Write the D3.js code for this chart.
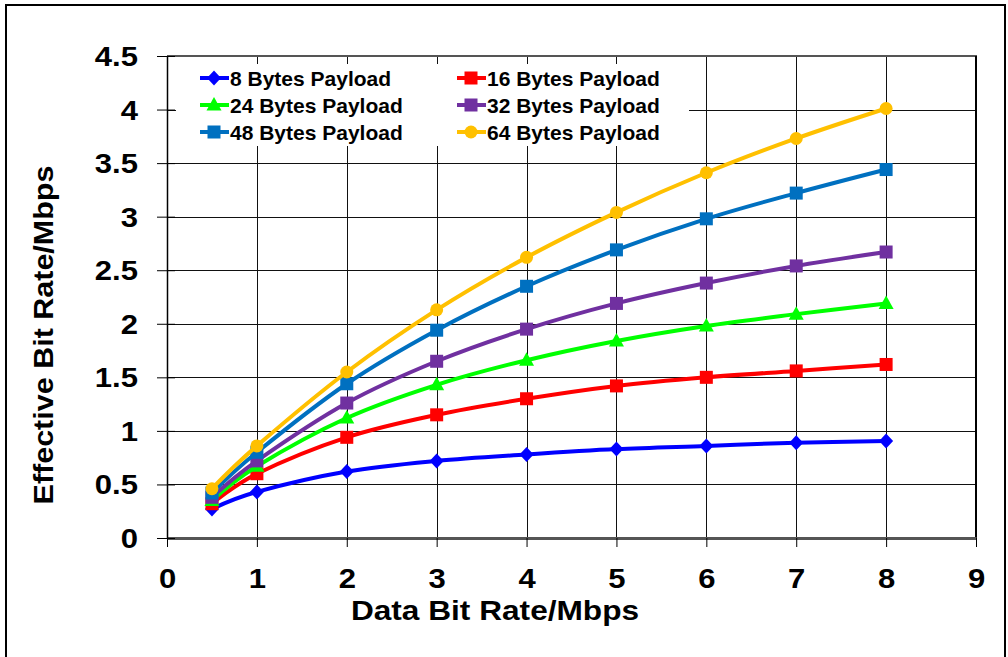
<!DOCTYPE html>
<html>
<head>
<meta charset="utf-8">
<script src="https://cdn.jsdelivr.net/npm/d3@7"></script>
<style>
  html, body { margin: 0; padding: 0; background: #fff; }
  svg { display: block; }
  text { font-family: "Liberation Sans", Arial, sans-serif; font-weight: bold; fill: #000; }
</style>
</head>
<body>
<svg id="chart" width="1008" height="657"></svg>
<script>
// ---- data ----
const dataRates = [0.5, 1, 2, 3, 4, 5, 6, 7, 8];
const seriesNames = ["8 Bytes Payload", "16 Bytes Payload", "24 Bytes Payload",
                     "32 Bytes Payload", "48 Bytes Payload", "64 Bytes Payload"];
const payload8  = [0.27, 0.43, 0.62, 0.72, 0.78, 0.83, 0.86, 0.89, 0.905];
const payload16 = [0.32, 0.60, 0.94, 1.15, 1.30, 1.42, 1.50, 1.56, 1.62];
const payload24 = [0.35, 0.67, 1.12, 1.43, 1.66, 1.84, 1.98, 2.09, 2.19];
const payload32 = [0.38, 0.72, 1.26, 1.65, 1.95, 2.19, 2.38, 2.54, 2.67];
const payload48 = [0.42, 0.80, 1.44, 1.94, 2.35, 2.69, 2.98, 3.22, 3.44];
const payload64 = [0.46, 0.86, 1.55, 2.13, 2.62, 3.04, 3.41, 3.73, 4.01];
const xTicks = [0, 1, 2, 3, 4, 5, 6, 7, 8, 9];
const yTicks = [0, 0.5, 1, 1.5, 2, 2.5, 3, 3.5, 4, 4.5];
const xTitle = "Data Bit Rate/Mbps";
const yTitle = "Effective Bit Rate/Mbps";

const seriesValues = [payload8, payload16, payload24, payload32, payload48, payload64];
const colors = ["#0000FF", "#FF0000", "#00FF00", "#7030A0", "#0070C0", "#FFC000"];
const shapes = ["diamond", "square", "triangle", "square", "square", "circle"];

// ---- layout ----
const svg = d3.select("#chart");
const L = 167, R = 976, T = 56, B = 538;
const x = d3.scaleLinear().domain([0, 9]).range([L, R]);
const y = d3.scaleLinear().domain([0, 4.5]).range([B, T]);

svg.append("rect").attr("width", 1008).attr("height", 657).attr("fill", "#fff");

// outer frame
svg.append("rect").attr("x", 6).attr("y", 5).attr("width", 999).attr("height", 720)
  .attr("fill", "none").attr("stroke", "#000").attr("stroke-width", 2);

// gridlines
const grid = svg.append("g").attr("shape-rendering", "crispEdges");
grid.selectAll("line.h").data(yTicks.filter(d => d > 0 && d < 4.5)).join("line")
  .attr("x1", L).attr("x2", R).attr("y1", d => Math.round(y(d)) + 0.5).attr("y2", d => Math.round(y(d)) + 0.5)
  .attr("stroke", "#111").attr("stroke-width", 1);
grid.selectAll("line.v").data(xTicks.filter(d => d > 0 && d < 9)).join("line")
  .attr("y1", T).attr("y2", B).attr("x1", d => Math.round(x(d)) + 0.5).attr("x2", d => Math.round(x(d)) + 0.5)
  .attr("stroke", "#111").attr("stroke-width", 1);

// plot border
svg.append("line").attr("x1", L).attr("x2", R + 1).attr("y1", T).attr("y2", T)
  .attr("stroke", "#555").attr("stroke-width", 2);
svg.append("line").attr("x1", R).attr("x2", R).attr("y1", T).attr("y2", B)
  .attr("stroke", "#000").attr("stroke-width", 2);

// axes
const xAxis = svg.append("g").attr("transform", `translate(0,${B})`)
  .call(d3.axisBottom(x).tickValues(xTicks).tickSize(9).tickSizeOuter(0).tickFormat(d3.format("d")));
xAxis.select(".domain").attr("stroke", "#555").attr("stroke-width", 3);
xAxis.selectAll(".tick line").attr("stroke", "#000").attr("stroke-width", 1);
xAxis.selectAll(".tick text").attr("y", 0).attr("dy", 0)
  .attr("transform", "translate(0,50) scale(1.15,1)")
  .style("font-size", "27px").style("font-family", "'Liberation Sans', Arial, sans-serif")
  .style("font-weight", "bold").attr("fill", "#000");

const yAxis = svg.append("g").attr("transform", `translate(${L},0)`)
  .call(d3.axisLeft(y).tickValues(yTicks).tickSize(10).tickSizeOuter(0).tickFormat(d => d3.format("")(d)));
yAxis.select(".domain").attr("stroke", "#000").attr("stroke-width", 1.5);
yAxis.selectAll(".tick line").attr("stroke", "#000").attr("stroke-width", 1).attr("x2", 8).attr("x1", -10);
yAxis.selectAll(".tick text").attr("x", 0).attr("dy", 0)
  .attr("transform", "translate(-29,9.5) scale(1.15,1)")
  .style("font-size", "27px").style("font-family", "'Liberation Sans', Arial, sans-serif")
  .style("font-weight", "bold").attr("fill", "#000");

// axis titles
svg.append("text").attr("transform", "translate(495,620) scale(1.13,1)")
  .attr("text-anchor", "middle").style("font-size", "28px").text(xTitle);
svg.append("text").attr("transform", "translate(53,335) rotate(-90) scale(1.13,1)")
  .attr("text-anchor", "middle").style("font-size", "27px").text(yTitle);

// marker helper
function drawMarker(g, shape, color, cx, cy) {
  if (shape === "circle") {
    g.append("circle").attr("cx", cx).attr("cy", cy).attr("r", 6.5).attr("fill", color);
  } else if (shape === "square") {
    g.append("rect").attr("x", cx - 6.5).attr("y", cy - 6.5).attr("width", 13).attr("height", 13).attr("fill", color);
  } else if (shape === "diamond") {
    g.append("path").attr("d", `M${cx},${cy - 7.5}L${cx + 7},${cy}L${cx},${cy + 7.5}L${cx - 7},${cy}Z`).attr("fill", color);
  } else if (shape === "triangle") {
    g.append("path").attr("d", `M${cx},${cy - 8}L${cx + 7.5},${cy + 5.5}L${cx - 7.5},${cy + 5.5}Z`).attr("fill", color);
  }
}

// series
const line = d3.line().x(d => x(d[0])).y(d => y(d[1])).curve(d3.curveCardinal.tension(0));
seriesValues.forEach((vals, i) => {
  const pts = dataRates.map((r, j) => [r, vals[j]]);
  const g = svg.append("g");
  g.append("path").datum(pts).attr("d", line).attr("fill", "none")
    .attr("stroke", colors[i]).attr("stroke-width", 4).attr("stroke-linejoin", "round");
  pts.forEach(p => drawMarker(g, shapes[i], colors[i], x(p[0]), y(p[1])));
});

// legend
const lg = svg.append("g");
lg.append("rect").attr("x", 176).attr("y", 64).attr("width", 513).attr("height", 82).attr("fill", "#fff");
const colX = [200, 457];
const rowY = [78, 105, 132];
seriesNames.forEach((name, i) => {
  const cx = colX[i % 2], cy = rowY[Math.floor(i / 2)];
  lg.append("line").attr("x1", cx).attr("x2", cx + 29).attr("y1", cy).attr("y2", cy)
    .attr("stroke", colors[i]).attr("stroke-width", 4);
  drawMarker(lg, shapes[i], colors[i], cx + 14, cy);
  lg.append("text").attr("x", cx + 30).attr("y", cy + 7.5).style("font-size", "21px").text(name);
});
</script>
</body>
</html>
